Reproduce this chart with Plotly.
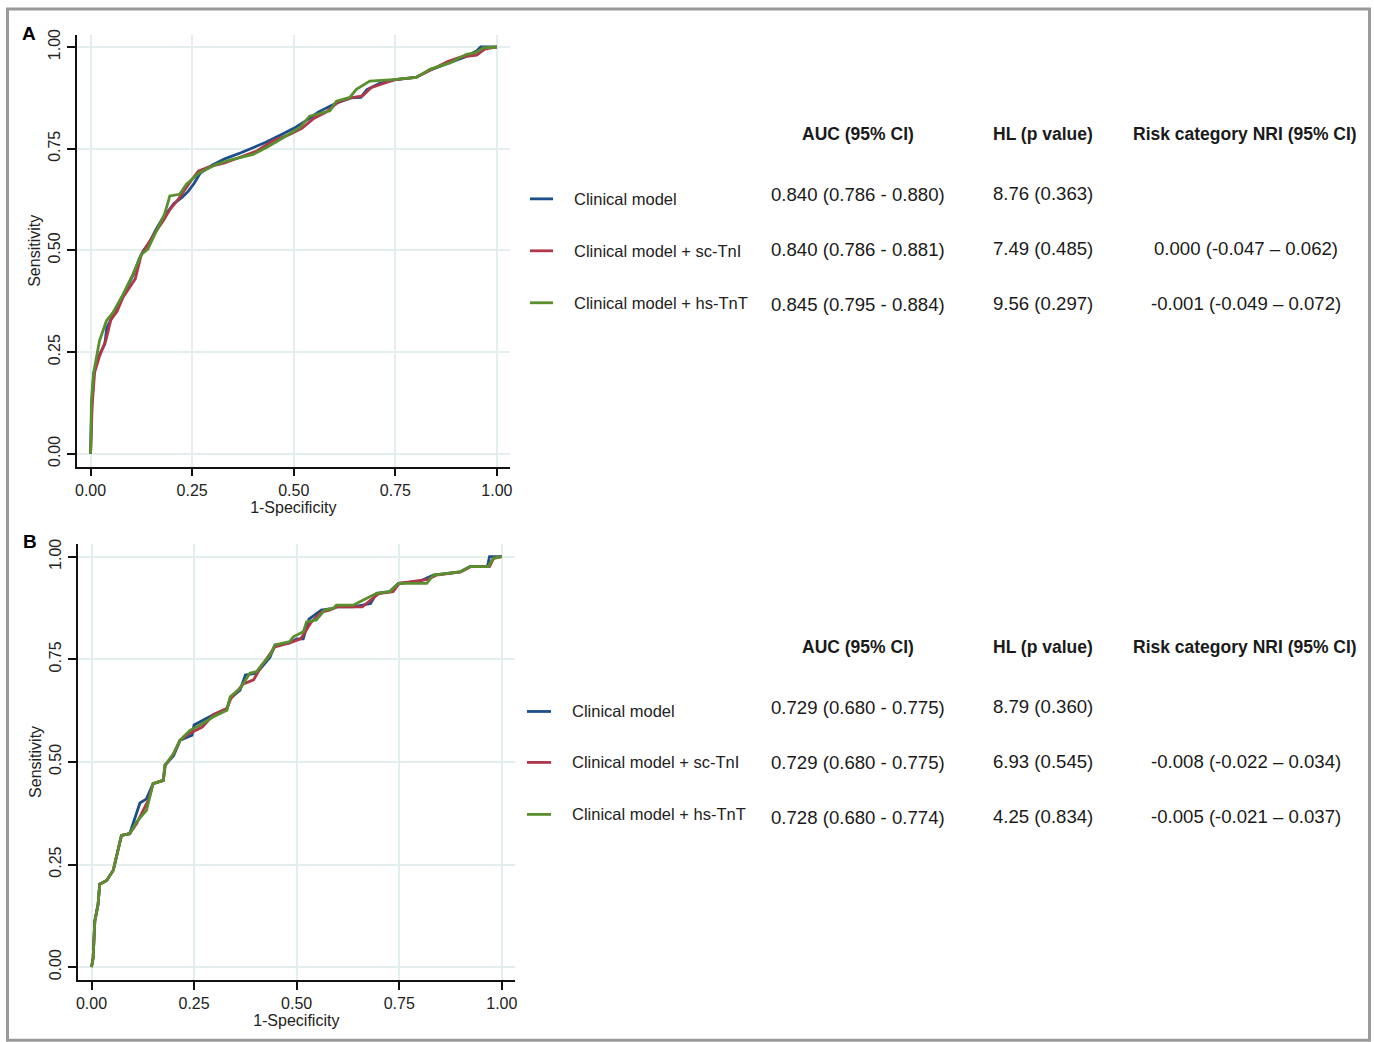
import plotly.graph_objects as go

# ---------------- data ----------------
series_names = ["Clinical model", "Clinical model + sc-TnI", "Clinical model + hs-TnT"]

# Panel A ROC curves (1-specificity, sensitivity)
fpr_A_clin = [0, 0.003, 0.008, 0.02, 0.035, 0.04, 0.055, 0.07, 0.08, 0.095, 0.105, 0.12, 0.13, 0.145, 0.16, 0.175, 0.19, 0.205, 0.225, 0.24, 0.255, 0.27, 0.30, 0.33, 0.37, 0.40, 0.43, 0.47, 0.50, 0.54, 0.56, 0.60, 0.64, 0.665, 0.68, 0.71, 0.75, 0.80, 0.84, 0.88, 0.92, 0.95, 0.96, 1.0]
tpr_A_clin = [0, 0.12, 0.20, 0.24, 0.27, 0.31, 0.34, 0.37, 0.39, 0.42, 0.44, 0.48, 0.50, 0.52, 0.55, 0.575, 0.595, 0.615, 0.63, 0.645, 0.665, 0.69, 0.71, 0.725, 0.74, 0.753, 0.765, 0.785, 0.80, 0.825, 0.84, 0.86, 0.875, 0.876, 0.895, 0.91, 0.92, 0.925, 0.945, 0.96, 0.975, 0.99, 1.0, 1.0]
fpr_A_tni = [0, 0.004, 0.01, 0.022, 0.038, 0.05, 0.065, 0.08, 0.10, 0.11, 0.125, 0.14, 0.16, 0.18, 0.195, 0.215, 0.235, 0.25, 0.265, 0.29, 0.33, 0.37, 0.41, 0.45, 0.49, 0.52, 0.55, 0.58, 0.61, 0.64, 0.67, 0.69, 0.72, 0.75, 0.80, 0.84, 0.88, 0.91, 0.95, 0.97, 1.0]
tpr_A_tni = [0, 0.12, 0.20, 0.24, 0.28, 0.33, 0.35, 0.385, 0.415, 0.43, 0.49, 0.515, 0.545, 0.575, 0.60, 0.625, 0.655, 0.675, 0.695, 0.705, 0.715, 0.73, 0.745, 0.77, 0.785, 0.80, 0.825, 0.84, 0.865, 0.875, 0.88, 0.90, 0.91, 0.92, 0.925, 0.945, 0.965, 0.975, 0.98, 0.995, 1.0]
fpr_A_tnt = [0, 0.002, 0.007, 0.022, 0.039, 0.055, 0.08, 0.104, 0.125, 0.141, 0.162, 0.182, 0.195, 0.219, 0.236, 0.268, 0.31, 0.35, 0.40, 0.433, 0.474, 0.515, 0.539, 0.589, 0.605, 0.638, 0.654, 0.687, 0.745, 0.802, 0.835, 0.884, 0.925, 0.948, 0.966, 1.0]
tpr_A_tnt = [0, 0.13, 0.196, 0.278, 0.327, 0.347, 0.392, 0.441, 0.49, 0.503, 0.548, 0.589, 0.634, 0.638, 0.663, 0.691, 0.712, 0.724, 0.736, 0.753, 0.777, 0.802, 0.83, 0.843, 0.867, 0.876, 0.896, 0.916, 0.92, 0.925, 0.945, 0.961, 0.982, 0.986, 0.998, 1.0]

# Panel B ROC curves
fpr_B_clin = [0, 0.004, 0.008, 0.016, 0.02, 0.037, 0.053, 0.065, 0.073, 0.093, 0.105, 0.118, 0.134, 0.15, 0.175, 0.179, 0.20, 0.216, 0.245, 0.25, 0.297, 0.33, 0.338, 0.362, 0.375, 0.402, 0.418, 0.435, 0.447, 0.483, 0.50, 0.516, 0.53, 0.56, 0.589, 0.597, 0.638, 0.68, 0.695, 0.727, 0.748, 0.80, 0.833, 0.898, 0.922, 0.965, 0.97, 1.0]
tpr_B_clin = [0, 0.023, 0.112, 0.153, 0.202, 0.211, 0.236, 0.285, 0.321, 0.325, 0.36, 0.40, 0.41, 0.447, 0.455, 0.492, 0.515, 0.553, 0.565, 0.59, 0.615, 0.63, 0.655, 0.675, 0.712, 0.716, 0.735, 0.755, 0.785, 0.79, 0.80, 0.80, 0.848, 0.87, 0.874, 0.878, 0.878, 0.886, 0.911, 0.915, 0.935, 0.94, 0.955, 0.963, 0.976, 0.976, 1.0, 1.0]
fpr_B_tni = [0, 0.004, 0.008, 0.016, 0.02, 0.037, 0.053, 0.065, 0.073, 0.093, 0.11, 0.125, 0.14, 0.15, 0.175, 0.18, 0.20, 0.216, 0.24, 0.27, 0.297, 0.33, 0.34, 0.37, 0.395, 0.415, 0.43, 0.447, 0.483, 0.51, 0.535, 0.56, 0.58, 0.60, 0.66, 0.675, 0.70, 0.735, 0.75, 0.82, 0.84, 0.90, 0.925, 0.97, 0.98, 1.0]
tpr_B_tni = [0, 0.023, 0.112, 0.153, 0.202, 0.211, 0.236, 0.285, 0.321, 0.325, 0.35, 0.38, 0.41, 0.447, 0.455, 0.492, 0.52, 0.553, 0.57, 0.585, 0.615, 0.63, 0.655, 0.69, 0.70, 0.735, 0.755, 0.78, 0.79, 0.80, 0.84, 0.865, 0.87, 0.878, 0.878, 0.89, 0.91, 0.915, 0.935, 0.945, 0.955, 0.963, 0.976, 0.976, 0.996, 1.0]
fpr_B_tnt = [0, 0.004, 0.008, 0.016, 0.02, 0.037, 0.053, 0.065, 0.073, 0.093, 0.11, 0.134, 0.15, 0.175, 0.179, 0.20, 0.216, 0.24, 0.265, 0.297, 0.33, 0.338, 0.362, 0.386, 0.402, 0.418, 0.435, 0.447, 0.483, 0.492, 0.516, 0.524, 0.548, 0.568, 0.589, 0.597, 0.638, 0.654, 0.67, 0.695, 0.727, 0.748, 0.817, 0.833, 0.898, 0.922, 0.967, 0.979, 1.0]
tpr_B_tnt = [0, 0.023, 0.112, 0.153, 0.202, 0.211, 0.236, 0.285, 0.321, 0.325, 0.354, 0.382, 0.447, 0.455, 0.492, 0.52, 0.553, 0.577, 0.59, 0.61, 0.626, 0.659, 0.679, 0.716, 0.72, 0.74, 0.76, 0.785, 0.793, 0.805, 0.817, 0.841, 0.846, 0.87, 0.874, 0.882, 0.882, 0.89, 0.898, 0.911, 0.915, 0.935, 0.935, 0.955, 0.963, 0.976, 0.976, 0.996, 1.0]

# table values
col_headers = ["AUC (95% CI)", "HL (p value)", "Risk category NRI (95% CI)"]
auc_A = ["0.840 (0.786 - 0.880)", "0.840 (0.786 - 0.881)", "0.845 (0.795 - 0.884)"]
hl_A = ["8.76 (0.363)", "7.49 (0.485)", "9.56 (0.297)"]
nri_A = ["", "0.000 (-0.047 \u2013 0.062)", "-0.001 (-0.049 \u2013 0.072)"]
auc_B = ["0.729 (0.680 - 0.775)", "0.729 (0.680 - 0.775)", "0.728 (0.680 - 0.774)"]
hl_B = ["8.79 (0.360)", "6.93 (0.545)", "4.25 (0.834)"]
nri_B = ["", "-0.008 (-0.022 \u2013 0.034)", "-0.005 (-0.021 \u2013 0.037)"]
tick_vals = [0, 0.25, 0.5, 0.75, 1.0]
tick_text = ["0.00", "0.25", "0.50", "0.75", "1.00"]

colors = ["#1c4f8a", "#b0384a", "#5a8f2e"]

# ---------------- layout helpers ----------------
W, H = 1374, 1042
# empirical correction for the capture (target pixel -> page pixel)
SX, OX = 0.9955, 2.5
SY, OY = 0.995, 5.0


def gx(x):
    return (x - OX) / SX


def gy(y):
    return (y - OY) / SY


def px(x):
    return gx(x) / W


def py(y):
    return 1 - gy(y) / H


fig = go.Figure()

curves_A = [(fpr_A_clin, tpr_A_clin), (fpr_A_tni, tpr_A_tni), (fpr_A_tnt, tpr_A_tnt)]
curves_B = [(fpr_B_clin, tpr_B_clin), (fpr_B_tni, tpr_B_tni), (fpr_B_tnt, tpr_B_tnt)]

for i, (fx, ty) in enumerate(curves_A):
    fig.add_trace(go.Scatter(x=fx, y=ty, mode="lines", name=series_names[i],
                             line=dict(color=colors[i], width=2.8), xaxis="x", yaxis="y",
                             showlegend=False, hoverinfo="skip"))
for i, (fx, ty) in enumerate(curves_B):
    fig.add_trace(go.Scatter(x=fx, y=ty, mode="lines", name=series_names[i],
                             line=dict(color=colors[i], width=2.8), xaxis="x2", yaxis="y2",
                             showlegend=False, hoverinfo="skip"))

axis_font = dict(family="Liberation Sans, Arial", size=16, color="#222")
common = dict(showline=True, linecolor="#111", linewidth=1.5, ticks="outside", ticklen=8,
              tickwidth=1.5, tickcolor="#111", showgrid=True, gridcolor="#e4eeee", gridwidth=1.5,
              zeroline=False, tickvals=tick_vals, ticktext=tick_text, tickfont=axis_font,
              mirror=False)

# panel geometry (target pixels)
A_x0, A_x1, A_y0, A_y1 = 77, 510, 34, 466
B_x0, B_x1, B_y0, B_y1 = 78, 515, 543, 980

fig.update_layout(
    width=W, height=H,
    margin=dict(l=0, r=0, t=0, b=0),
    paper_bgcolor="white", plot_bgcolor="white",
    xaxis=dict(domain=[px(A_x0), px(A_x1)], range=[-0.0345, 1.032], anchor="y",
               title=dict(text="1-Specificity", font=axis_font, standoff=0), **common),
    yaxis=dict(domain=[py(A_y1), py(A_y0)], range=[-0.0315, 1.0295], anchor="x",
               tickangle=-90, title=dict(text="Sensitivity", font=axis_font, standoff=2), **common),
    xaxis2=dict(domain=[px(B_x0), px(B_x1)], range=[-0.034, 1.032], anchor="y2",
                title=dict(text="1-Specificity", font=axis_font, standoff=0), **common),
    yaxis2=dict(domain=[py(B_y1), py(B_y0)], range=[-0.032, 1.032], anchor="x2",
                tickangle=-90, title=dict(text="Sensitivity", font=axis_font, standoff=2), **common),
)

annotations = []
shapes = []


def txt(x, y, s, size=18, bold=False, anchor="center", family="Liberation Sans, Arial", color="#1a1a1a"):
    annotations.append(dict(x=px(x), y=py(y), xref="paper", yref="paper", text=("<b>%s</b>" % s) if bold else s,
                            showarrow=False, xanchor=anchor, yanchor="middle",
                            font=dict(family=family, size=size, color=color)))


# panel letters
txt(29, 33, "A", size=19, bold=True, color="#000")
txt(30, 541, "B", size=19, bold=True, color="#000")

panels = [
    dict(head_y=133, sw_x=(530, 553), lab_x=572, rows=[198, 250, 302], auc=auc_A, hl=hl_A, nri=nri_A,
         val_rows=[194, 249, 304]),
    dict(head_y=646, sw_x=(527, 551), lab_x=570, rows=[711, 762, 814], auc=auc_B, hl=hl_B, nri=nri_B,
         val_rows=[707, 762, 817]),
]
col_x = [858, 1043, 1244]
for p in panels:
    for j, h in enumerate(col_headers):
        txt(col_x[j], p["head_y"], h, size=17.5, bold=True)
    for i in range(3):
        ry = p["rows"][i]
        shapes.append(dict(type="line", xref="paper", yref="paper", x0=px(p["sw_x"][0]), x1=px(p["sw_x"][1]),
                           y0=py(ry), y1=py(ry), line=dict(color=colors[i], width=2.8)))
        txt(p["lab_x"], ry, series_names[i], size=16.5, anchor="left", color="#222")
        vy = p["val_rows"][i]
        txt(col_x[0], vy, p["auc"][i], size=18.6)
        txt(col_x[1], vy - 1, p["hl"][i], size=18.6)
        if p["nri"][i]:
            txt(col_x[2] + 1, vy - 1, p["nri"][i], size=18.6)

# outer gray frame
shapes.append(dict(type="rect", xref="paper", yref="paper", x0=px(8), x1=min(px(1370), 1372.5 / W),
                   y0=py(1040), y1=py(8),
                   line=dict(color="#9a9a9a", width=3), fillcolor="rgba(0,0,0,0)"))

fig.update_layout(annotations=annotations, shapes=shapes)
fig.write_html("out.html", config={"displayModeBar": False},
               post_script="document.body.style.margin='0';document.body.style.overflow='hidden';"
                           "document.documentElement.style.overflow='hidden';")
